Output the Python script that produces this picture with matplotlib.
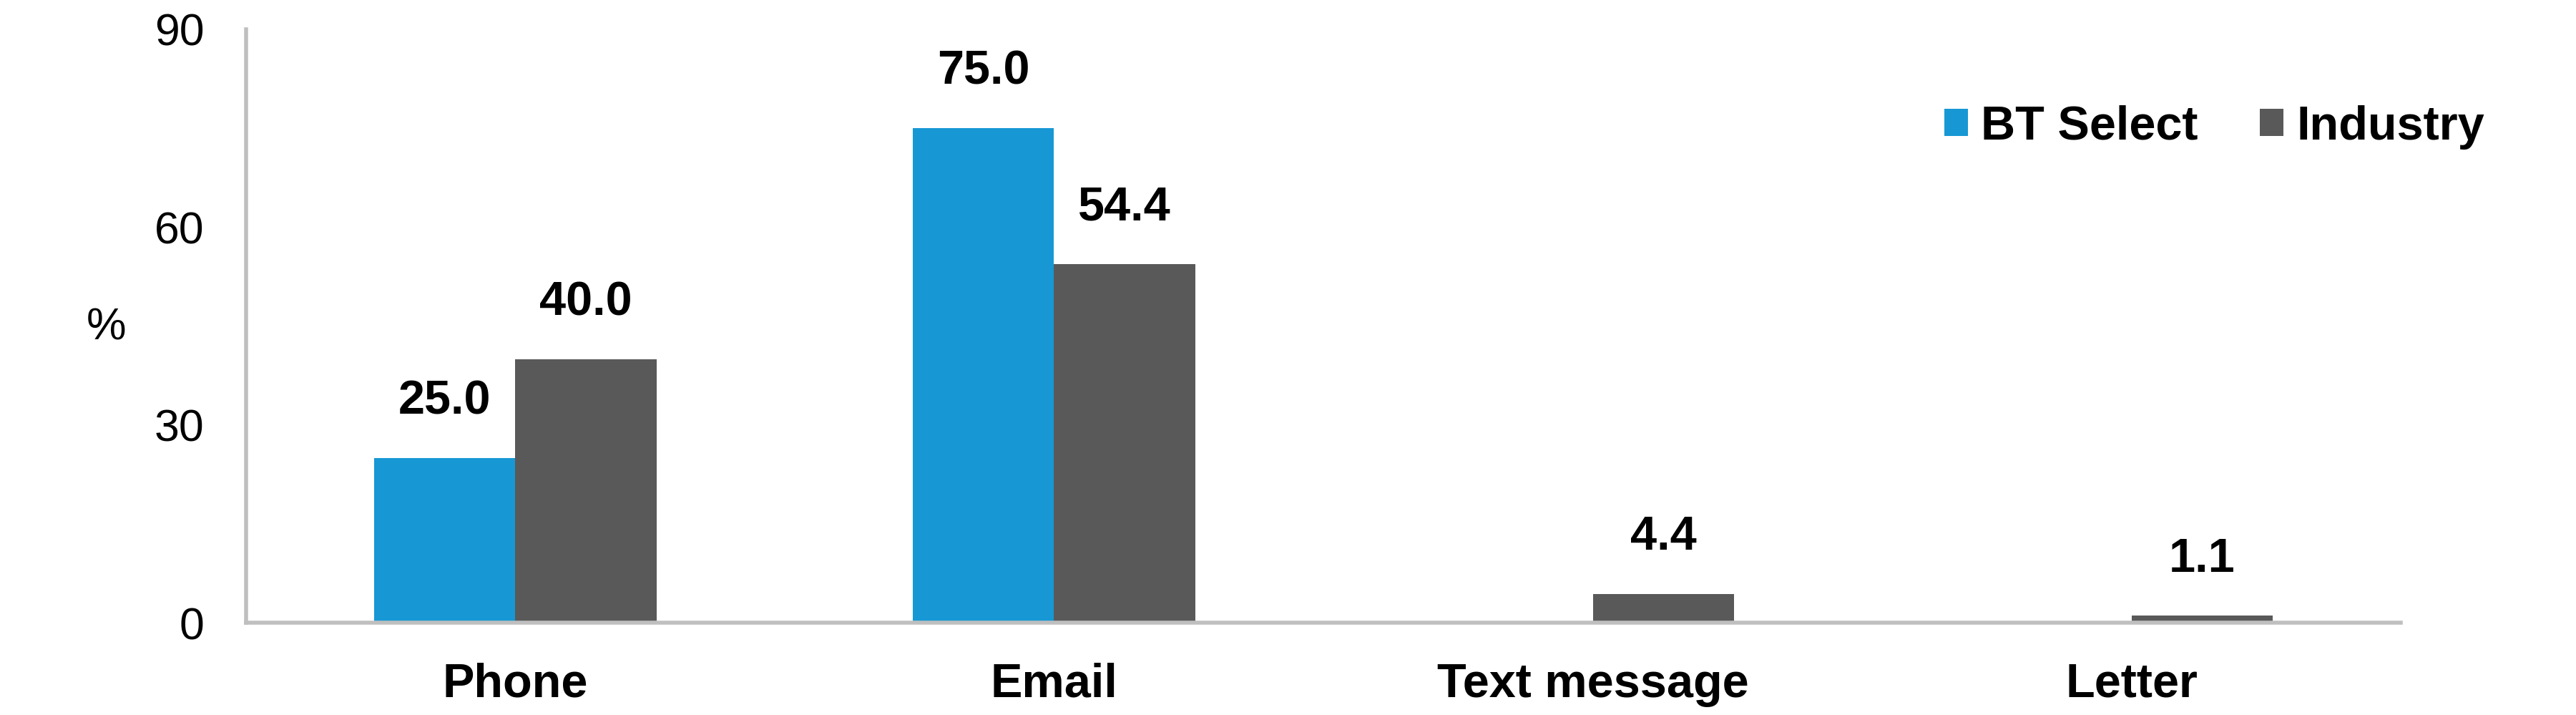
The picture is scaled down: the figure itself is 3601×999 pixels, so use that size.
import numpy as np
import matplotlib
matplotlib.use("Agg")
import matplotlib.pyplot as plt

# data
categories = ['Phone', 'Email', 'Text message', 'Letter']
series_names = ['BT Select', 'Industry']
bt_select = [25.0, 75.0, 0.0, 0.0]
industry = [40.0, 54.4, 4.4, 1.1]
y_ticks = [0, 30, 60, 90]

colors = ['#1798D4', '#595959']

plt.rcParams['font.family'] = ['Liberation Sans', 'DejaVu Sans']

fig = plt.figure(figsize=(36.01, 9.99), dpi=100)
ax = fig.add_axes([0.0955, 0.129, 0.8365, 0.830])

x = np.arange(len(categories))
width = 0.262

bars_bt = ax.bar(x - width / 2, bt_select, width, color=colors[0], label=series_names[0])
bars_ind = ax.bar(x + width / 2, industry, width, color=colors[1], label=series_names[1])

# value labels, zeros are left blank like the original
ax.bar_label(bars_bt, labels=[f'{v:.1f}' if v > 0 else '' for v in bt_select],
             padding=34, fontsize=48, fontweight='bold')
ax.bar_label(bars_ind, labels=[f'{v:.1f}' for v in industry],
             padding=34, fontsize=48, fontweight='bold')

ax.set_xlim(-0.5, len(categories) - 0.5)
ax.set_ylim(0, 90)
ax.set_yticks(y_ticks)
ax.set_xticks(x)
ax.set_xticklabels(categories, fontsize=48, fontweight='bold')
ax.tick_params(axis='y', length=0, labelsize=45, pad=42)
ax.tick_params(axis='x', length=0, pad=40)

for side in ['top', 'right']:
    ax.spines[side].set_visible(False)
for side in ['left', 'bottom']:
    ax.spines[side].set_color('#BFBFBF')
    ax.spines[side].set_linewidth(4)

ax.set_ylabel('%', rotation=0, fontsize=45, ha='center', va='center')
ax.yaxis.set_label_coords(-0.065, 0.497)

ax.legend(loc='center left', bbox_to_anchor=(0.788, 0.835), ncol=2, frameon=False,
          prop={'size': 48, 'weight': 'bold'}, handlelength=0.5, handleheight=0.5,
          handletextpad=0.27, columnspacing=1.3, borderpad=0, borderaxespad=0)

plt.savefig('out.png', dpi=100)
